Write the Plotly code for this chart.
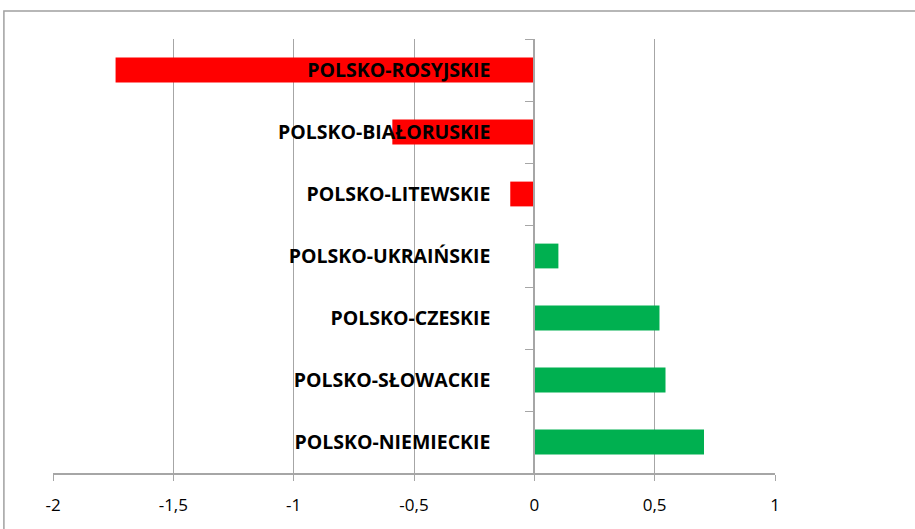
import plotly.graph_objects as go

categories = [
    "POLSKO-ROSYJSKIE",
    "POLSKO-BIAŁORUSKIE",
    "POLSKO-LITEWSKIE",
    "POLSKO-UKRAIŃSKIE",
    "POLSKO-CZESKIE",
    "POLSKO-SŁOWACKIE",
    "POLSKO-NIEMIECKIE",
]
values = [-1.74, -0.59, -0.10, 0.10, 0.52, 0.545, 0.705]
x_tick_vals = [-2, -1.5, -1, -0.5, 0, 0.5, 1]
x_tick_text = ["-2", "-1,5", "-1", "-0,5", "0", "0,5", "1"]

RED = "#FF0000"
GREEN = "#00B050"
GRID = "#a6a6a6"

colors = [RED if v < 0 else GREEN for v in values]

fig = go.Figure(
    go.Bar(
        x=values,
        y=categories,
        orientation="h",
        marker={"color": colors, "line": {"width": 0}},
        showlegend=False,
    )
)

# zero position of the x axis as a fraction of the plot width
x_min, x_max = x_tick_vals[0], x_tick_vals[-1]
zero_frac = (0 - x_min) / (x_max - x_min)

fig.update_layout(
    width=915,
    height=529,
    margin={"l": 53, "r": 140, "t": 39, "b": 56, "autoexpand": False},
    paper_bgcolor="white",
    plot_bgcolor="white",
    bargap=0.6,
    font={"family": "Open Sans, sans-serif", "color": "black"},
    xaxis={
        "range": [x_min, x_max],
        "tickvals": x_tick_vals,
        "ticktext": x_tick_text,
        "automargin": False,
        "showgrid": True,
        "gridcolor": GRID,
        "gridwidth": 1,
        "zeroline": False,
        "showline": True,
        "linecolor": GRID,
        "linewidth": 2,
        "ticks": "outside",
        "ticklen": 6,
        "tickcolor": GRID,
        "ticklabelstandoff": 10,
        "tickfont": {"size": 17},
        "fixedrange": True,
    },
    yaxis={
        "autorange": "reversed",
        "anchor": "free",
        "position": zero_frac,
        "automargin": False,
        "showgrid": False,
        "zeroline": False,
        "showline": True,
        "linecolor": GRID,
        "linewidth": 2,
        "ticks": "outside",
        "ticklen": 8,
        "tickcolor": GRID,
        "tickson": "boundaries",
        "ticklabelstandoff": 39,
        "tickfont": {"size": 19.5, "weight": "bold"},
        "layer": "above traces",
        "fixedrange": True,
    },
    shapes=[
        {
            "type": "rect",
            "xref": "paper",
            "yref": "paper",
            "x0": -0.068,
            "x1": 1.3,
            "y0": -0.3,
            "y1": 1.0645,
            "line": {"color": "#a0a0a0", "width": 1.5},
            "fillcolor": "rgba(0,0,0,0)",
            "layer": "below",
        }
    ],
)

fig.write_html(
    "out.html",
    config={"displayModeBar": False},
    post_script="document.body.style.margin = '0';",
)
